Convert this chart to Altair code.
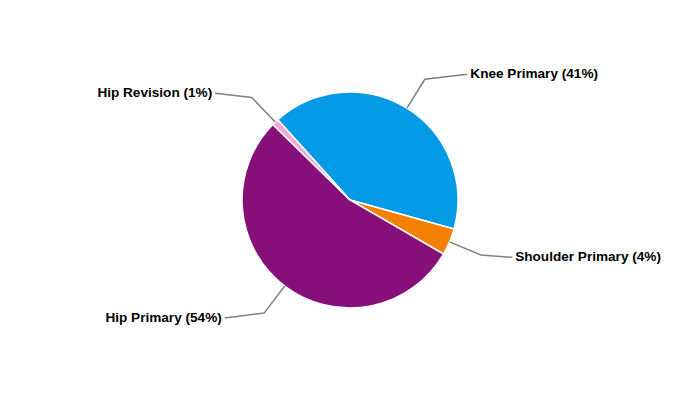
import math
import altair as alt
import pandas as pd

categories = ["Knee Primary", "Shoulder Primary", "Hip Primary", "Hip Revision"]
shares = [41, 4, 54, 1]
colors = ["#039BE5", "#F57F00", "#870F7A", "#F4A7D9"]

START_DEG = -42.0
R = 108
R_ELBOW = 142
R_END_Y = 148
R_LABEL = 172

df = pd.DataFrame({"cat": categories, "value": shares, "idx": range(len(shares))})
df["label"] = [f"{c} ({v}%)" for c, v in zip(categories, shares)]

total = sum(shares)
cum = 0.0
rows_line = []
rows_text = []
for i, (c, v) in enumerate(zip(categories, shares)):
    mid = math.radians(START_DEG + 360.0 * (cum + v / 2) / total)
    cum += v
    ex, ey = R * math.sin(mid), R * math.cos(mid)
    bx, by = R_ELBOW * math.sin(mid), R_ELBOW * math.cos(mid)
    side = 1 if math.sin(mid) >= 0 else -1
    ly = R_END_Y * math.cos(mid)
    lx = side * math.sqrt(max(R_LABEL ** 2 - ly ** 2, 0))
    for k, (px, py) in enumerate([(ex, ey), (bx, by), (lx, ly)]):
        rows_line.append({"cat": c, "k": k, "x": px, "y": py})
    rows_text.append({"label": df.loc[i, "label"], "x": lx + side * 3, "y": ly,
                      "side": "left" if side > 0 else "right"})

lines_df = pd.DataFrame(rows_line)
text_df = pd.DataFrame(rows_text)

W, H = 684, 384
xs = alt.Scale(domain=[-W / 2, W / 2], nice=False, zero=False)
ys = alt.Scale(domain=[-H / 2, H / 2], nice=False, zero=False)

start = math.radians(START_DEG)
pie = alt.Chart(df).mark_arc(radius=R, stroke="white", strokeWidth=1.5).encode(
    theta=alt.Theta("value:Q", stack=True,
                    scale=alt.Scale(range=[start, start + 2 * math.pi])),
    order=alt.Order("idx:Q"),
    color=alt.Color("cat:N", scale=alt.Scale(domain=categories, range=colors), legend=None),
)

conn = alt.Chart(lines_df).mark_line(color="#808080", strokeWidth=1.5).encode(
    x=alt.X("x:Q", scale=xs, axis=None),
    y=alt.Y("y:Q", scale=ys, axis=None),
    detail="cat:N",
    order="k:Q",
)

txt_right = alt.Chart(text_df).transform_filter(alt.datum.side == "left").mark_text(
    align="left", baseline="middle", font="Liberation Sans", fontSize=13.6,
    fontWeight="bold", color="#000000"
).encode(x=alt.X("x:Q", scale=xs, axis=None), y=alt.Y("y:Q", scale=ys, axis=None), text="label:N")

txt_left = alt.Chart(text_df).transform_filter(alt.datum.side == "right").mark_text(
    align="right", baseline="middle", font="Liberation Sans", fontSize=13.6,
    fontWeight="bold", color="#000000"
).encode(x=alt.X("x:Q", scale=xs, axis=None), y=alt.Y("y:Q", scale=ys, axis=None), text="label:N")

chart = alt.layer(pie, conn, txt_right, txt_left).properties(
    width=W, height=H, padding=0, background="white"
).configure_view(stroke=None)

chart.save("out.html", embed_options={"renderer": "svg", "actions": False})
